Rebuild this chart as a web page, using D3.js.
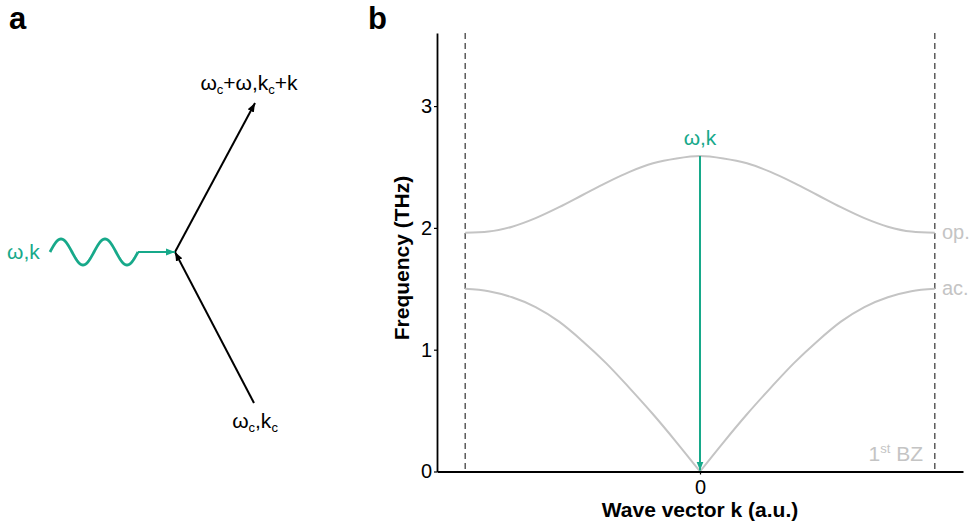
<!DOCTYPE html>
<html>
<head>
<meta charset="utf-8">
<script src="https://cdn.jsdelivr.net/npm/d3@7"></script>
<style>
  body { margin: 0; background: #fff; }
  text { font-family: "Liberation Sans", Arial, sans-serif; }
</style>
</head>
<body>
<svg id="fig" width="972" height="531"></svg>
<script>
// wave vector (1 = zone boundary) and the two phonon branches
var kValues = [-1, -0.9, -0.8, -0.7, -0.6, -0.5, -0.4, -0.3, -0.2, -0.1, 0,
               0.1, 0.2, 0.3, 0.4, 0.5, 0.6, 0.7, 0.8, 0.9, 1];
var opticalValues = [1.96, 1.97, 2.01, 2.08, 2.17, 2.27, 2.37, 2.46, 2.53, 2.57, 2.59,
                     2.57, 2.53, 2.46, 2.37, 2.27, 2.17, 2.08, 2.01, 1.97, 1.96];
var acousticValues = [1.50, 1.48, 1.43, 1.35, 1.23, 1.07, 0.89, 0.685, 0.47, 0.24, 0,
                      0.24, 0.47, 0.685, 0.89, 1.07, 1.23, 1.35, 1.43, 1.48, 1.50];
var yTicks = [0, 1, 2, 3];
var xTicks = [0];
var bzEdges = [-1, 1];
var photon = {k: 0, w: 2.59};

var green = "#17a98a", gray = "#c4c4c4";
var svg = d3.select("#fig");

var defs = svg.append("defs");
function marker(id, col){
    defs.append("marker")
        .attr("id", id)
        .attr("viewBox", "0 -4 9 8")
        .attr("refX", 9).attr("refY", 0)
        .attr("markerUnits", "userSpaceOnUse")
        .attr("markerWidth", 9).attr("markerHeight", 8)
        .attr("orient", "auto")
        .append("path")
        .attr("d", "M0,-3.5L9,0L0,3.5Z")
        .attr("fill", col);
}
marker("arrBlack", "#000");
marker("arrGreen", green);

// panel labels
svg.append("text").attr("x", 9).attr("y", 29).text("a")
    .style("font-weight", "bold").style("font-size", "31px");
svg.append("text").attr("x", 368).attr("y", 29).text("b")
    .style("font-weight", "bold").style("font-size", "31px");

// ---------- panel a : three-wave vertex ----------
var vertex = [175, 252];
var outEnd = [255, 103];
var inStart = [254, 403];

svg.append("line")
    .attr("x1", vertex[0]).attr("y1", vertex[1])
    .attr("x2", outEnd[0]).attr("y2", outEnd[1])
    .attr("stroke", "#000").attr("stroke-width", 2)
    .attr("marker-end", "url(#arrBlack)");
svg.append("line")
    .attr("x1", inStart[0]).attr("y1", inStart[1])
    .attr("x2", vertex[0]).attr("y2", vertex[1])
    .attr("stroke", "#000").attr("stroke-width", 2)
    .attr("marker-end", "url(#arrBlack)");

// wavy photon line
var waveX0 = 50, period = 44, amp = 13, cycles = 2;
var wavePts = d3.range(0, period*cycles + 0.5, 1).map(function(t){
    return [waveX0 + t, vertex[1] - amp*Math.sin(2*Math.PI*t/period)];
});
svg.append("path")
    .attr("d", d3.line()(wavePts))
    .attr("fill", "none").attr("stroke", green).attr("stroke-width", 2.8);
svg.append("line")
    .attr("x1", waveX0 + period*cycles).attr("y1", vertex[1])
    .attr("x2", vertex[0]).attr("y2", vertex[1])
    .attr("stroke", green).attr("stroke-width", 2)
    .attr("marker-end", "url(#arrGreen)");

svg.append("text").attr("x", 7).attr("y", 259)
    .attr("fill", green).style("font-size", "21px").text("ω,k");

var outLbl = svg.append("text").attr("x", 249).attr("y", 90)
    .attr("text-anchor", "middle").style("font-size", "21px");
outLbl.append("tspan").text("ω");
outLbl.append("tspan").attr("dy", 4).style("font-size", "13px").text("c");
outLbl.append("tspan").attr("dy", -4).text("+ω,k");
outLbl.append("tspan").attr("dy", 4).style("font-size", "13px").text("c");
outLbl.append("tspan").attr("dy", -4).text("+k");

var inLbl = svg.append("text").attr("x", 255).attr("y", 428)
    .attr("text-anchor", "middle").style("font-size", "21px");
inLbl.append("tspan").text("ω");
inLbl.append("tspan").attr("dy", 4).style("font-size", "13px").text("c");
inLbl.append("tspan").attr("dy", -4).text(",k");
inLbl.append("tspan").attr("dy", 4).style("font-size", "13px").text("c");

// ---------- panel b : dispersion ----------
var x = d3.scaleLinear().domain([-1.12, 1.12]).range([437, 963]);
var y = d3.scaleLinear().domain([0, 3.6]).range([471.5, 33]);

// zone boundaries
svg.selectAll(".bz").data(bzEdges).enter().append("line")
    .attr("class", "bz")
    .attr("x1", d => x(d)).attr("x2", d => x(d))
    .attr("y1", y(3.6)).attr("y2", y(0))
    .attr("stroke", "#333").attr("stroke-width", 1.2)
    .attr("stroke-dasharray", "6,4");

var line = d3.line().x(d => x(d[0])).y(d => y(d[1])).curve(d3.curveMonotoneX);
var opt = kValues.map((k, i) => [k, opticalValues[i]]);
var ac = kValues.map((k, i) => [k, acousticValues[i]]);
var branches = [opt, ac.slice(0, 11), ac.slice(10)];
svg.selectAll(".branch").data(branches).enter().append("path")
    .attr("class", "branch")
    .attr("d", line)
    .attr("fill", "none").attr("stroke", gray).attr("stroke-width", 2);

// photon arrow at k = 0
svg.append("line")
    .attr("x1", x(photon.k)).attr("y1", y(photon.w))
    .attr("x2", x(photon.k)).attr("y2", y(0) - 1)
    .attr("stroke", green).attr("stroke-width", 2)
    .attr("marker-end", "url(#arrGreen)");
svg.append("text").attr("x", x(photon.k)).attr("y", y(photon.w) - 11)
    .attr("text-anchor", "middle").attr("fill", green)
    .style("font-size", "21px").text("ω,k");

// branch labels
svg.append("text").attr("x", 942).attr("y", y(opticalValues[20]) + 6)
    .attr("fill", gray).style("font-size", "20px").text("op.");
svg.append("text").attr("x", 942).attr("y", y(acousticValues[20]) + 6)
    .attr("fill", gray).style("font-size", "20px").text("ac.");
var bz = svg.append("text").attr("x", 923).attr("y", 461)
    .attr("text-anchor", "end").attr("fill", gray).style("font-size", "21px");
bz.append("tspan").text("1");
bz.append("tspan").attr("dy", -8).style("font-size", "13px").text("st");
bz.append("tspan").attr("dy", 8).text(" BZ");

// axes
var yAxis = svg.append("g").attr("transform", "translate(" + x.range()[0] + ",0)")
    .call(d3.axisLeft(y).tickValues(yTicks).tickFormat(d3.format("d"))
        .tickSize(3).tickSizeOuter(0).tickPadding(2));
var xAxis = svg.append("g").attr("transform", "translate(0," + y(0) + ")")
    .call(d3.axisBottom(x).tickValues(xTicks).tickFormat(d3.format("d"))
        .tickSize(3).tickSizeOuter(0).tickPadding(5));
[yAxis, xAxis].forEach(function(g){
    g.select(".domain").attr("stroke", "#000").attr("stroke-width", 1.8);
    g.selectAll(".tick line").attr("stroke", "#000").attr("stroke-width", 1.2);
    g.selectAll(".tick text").attr("fill", "#000")
        .style("font-size", "20px").style("font-family", "'Liberation Sans', Arial, sans-serif");
});

svg.append("text")
    .attr("transform", "translate(409,258) rotate(-90)")
    .attr("text-anchor", "middle")
    .style("font-weight", "bold").style("font-size", "21px")
    .text("Frequency (THz)");
svg.append("text").attr("x", x(0)).attr("y", 517)
    .attr("text-anchor", "middle")
    .style("font-weight", "bold").style("font-size", "21px")
    .text("Wave vector k (a.u.)");
</script>
</body>
</html>
